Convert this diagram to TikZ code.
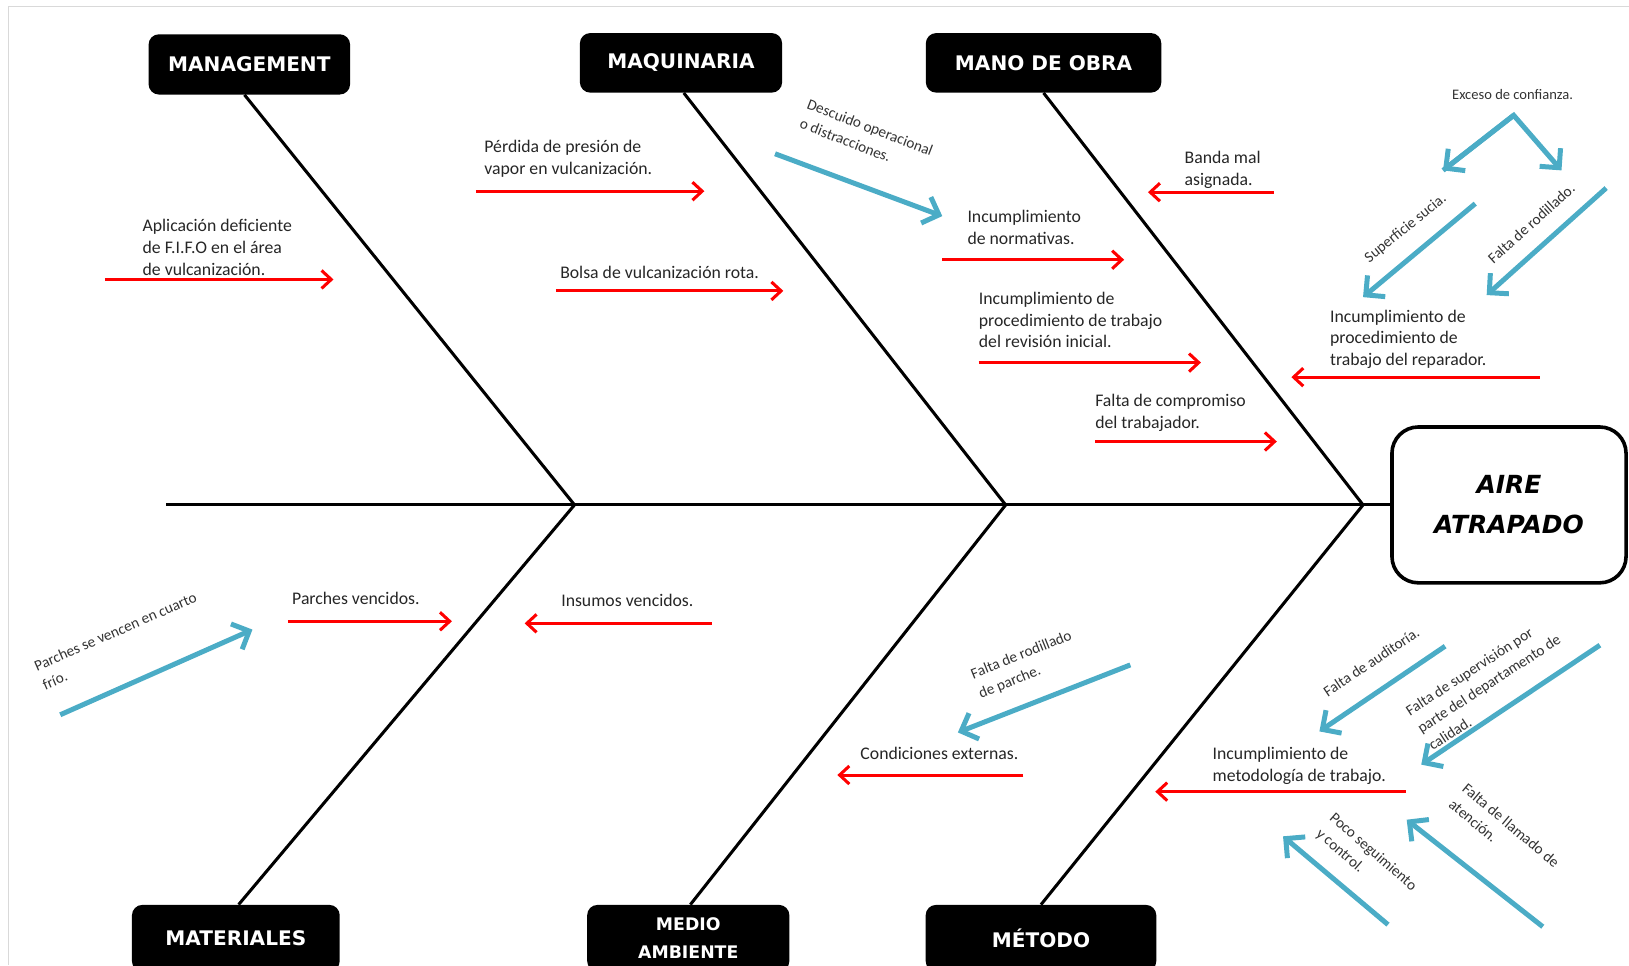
\documentclass[tikz,border=0pt]{standalone}
\usepackage{fontspec}
\setmainfont{Carlito}
\newfontfamily\boxfont{DejaVu Sans}
\usetikzlibrary{arrows.meta}
\definecolor{causered}{RGB}{255,0,0}
\definecolor{subblue}{RGB}{75,172,198}
\tikzset{
  bone/.style={line width=2.2pt},
  catbox/.style={rectangle, rounded corners=7.5pt, fill=black, text=white, align=center,
    inner sep=0pt, font=\boxfont\bfseries\fontsize{14.5}{20}\selectfont},
  cause/.style={anchor=west, align=left, inner sep=0pt, text=black!85,
    font=\fontsize{12.8}{15.75}\selectfont},
  subcause/.style={align=left, inner sep=0pt, text=black!80,
    font=\fontsize{11}{15}\selectfont},
  redarrow/.style={causered, line width=2.2pt, -{Straight Barb[length=7pt,width=13pt]}},
  bluearrow/.style={subblue, line width=3.6pt, -{Straight Barb[length=10pt,width=20pt]}}
}
\begin{document}
\begin{tikzpicture}[x=0.75pt,y=-0.75pt]
  \useasboundingbox (0,0) rectangle (1568,929);
  \clip (0,0) rectangle (1568,929);
  % Frame
  \draw[black!15, line width=1pt] (8,929) -- (8,6) -- (1568,6);
  % Effect
  \node[draw, line width=2.6pt, rounded corners=19pt, minimum width=169pt, minimum height=112.5pt,
    align=center, font=\boxfont\bfseries\itshape\fontsize{18}{29}\selectfont] (effect)
    at (1452.5,486) {AIRE\\ATRAPADO};
  % Spine and junctions
  \coordinate (tail) at (160,486);
  \coordinate (j1) at (553,486);
  \coordinate (j2) at (968,486);
  \coordinate (j3) at (1312,486);
  \draw[bone] (tail) -- (effect.west);
  % Categories
  \node[catbox, minimum width=145.5pt, minimum height=43.5pt] (mgmt) at (240,62) {MANAGEMENT};
  \node[catbox, minimum width=146pt, minimum height=43pt] (maq) at (655.5,60.5) {MAQUINARIA};
  \node[catbox, minimum width=170pt, minimum height=43pt] (mano) at (1004.5,60.5) {MANO DE OBRA};
  \node[catbox, minimum width=150pt, minimum height=48pt] (mat) at (227,903) {MATERIALES};
  \node[catbox, minimum width=146pt, minimum height=48pt,
    font=\boxfont\bfseries\fontsize{12.5}{20}\selectfont] (medio) at (662.5,903) {MEDIO\\AMBIENTE};
  \node[catbox, minimum width=166.5pt, minimum height=48pt] (metodo) at (1002,903) {MÉTODO};
  % Bones
  \draw[bone] ([xshift=-3.5pt]mgmt.south) -- (j1) -- ([xshift=2pt]mat.north);
  \draw[bone] ([xshift=2pt]maq.south) -- (j2) -- ([xshift=1.5pt]medio.north);
  \draw[bone] (mano.south) -- (j3) -- (metodo.north);

  % Management
  \node[cause] (fifo) at (137,238) {Aplicación deficiente\\de F.I.F.O en el área\\de vulcanización.};
  \draw[redarrow] (101,269) -- (321,269);
  % Maquinaria
  \node[cause] (vapor) at (466,152.5) {Pérdida de presión de\\vapor en vulcanización.};
  \draw[redarrow] (458,184) -- (678,184);
  \node[cause] (bolsa) at (539,262) {Bolsa de vulcanización rota.};
  \draw[redarrow] (535,280) -- (754,280);
  % Mano de obra
  \node[cause] (normas) at (931,218.5) {Incumplimiento\\de normativas.};
  \draw[redarrow] (907,250) -- (1082,250);
  \node[subcause, rotate=-21] (descuido) at (834,132) {Descuido operacional\\o distracciones.};
  \draw[bluearrow] (746,148) -- (907,208);
  \node[cause] (banda) at (1140,163.5) {Banda mal\\asignada.};
  \draw[redarrow] (1226,185) -- (1105,185);
  \node[cause] (revision) at (942,308) {Incumplimiento de\\procedimiento de trabajo\\del revisión inicial.};
  \draw[redarrow] (942,349) -- (1156,349);
  \node[cause] (compromiso) at (1054,397.5) {Falta de compromiso\\del trabajador.};
  \draw[redarrow] (1054,425) -- (1229,425);
  \node[cause] (reparador) at (1280,326.5) {Incumplimiento de\\procedimiento de\\trabajo del reparador.};
  \draw[redarrow] (1482,363) -- (1243,363);
  \node[subcause, font=\fontsize{10.5}{13}\selectfont] (exceso) at (1456,91) {Exceso de confianza.};
  \draw[bluearrow] (1389,164) -- (1457,111) -- (1503,164);
  \draw[bluearrow] (1457,111) -- (1389,164);
  \node[subcause, rotate=39] (sucia) at (1353,220) {Superficie sucia.};
  \draw[bluearrow] (1420,196) -- (1312,286);
  \node[subcause, rotate=42] (rodillado) at (1474,215) {Falta de rodillado.};
  \draw[bluearrow] (1546,181) -- (1431,284);

  % Materiales
  \node[cause] (parches) at (281,576) {Parches vencidos.};
  \draw[redarrow] (277,598) -- (435,598);
  \node[subcause, rotate=23.5] (cuarto) at (115,617) {Parches se vencen en cuarto\\frío.};
  \draw[bluearrow] (58,688) -- (243,606);
  % Medio ambiente
  \node[cause] (insumos) at (540,578) {Insumos vencidos.};
  \draw[redarrow] (685,600) -- (505,600);
  \node[cause] (externas) at (828,725) {Condiciones externas.};
  \draw[redarrow] (985,746) -- (806,746);
  \node[subcause, rotate=22] (parche) at (987,640) {Falta de rodillado\\de parche.};
  \draw[bluearrow] (1088,640) -- (922,705);
  % Metodo
  \node[cause] (metodologia) at (1167,737.5) {Incumplimiento de\\metodología de trabajo.};
  \draw[redarrow] (1353,762) -- (1112,762);
  \node[subcause, rotate=34] (auditoria) at (1320,637) {Falta de auditoría.};
  \draw[bluearrow] (1391,622) -- (1270,704);
  \node[subcause, rotate=33] (supervision) at (1433,658) {Falta de supervisión por\\parte del departamento de\\calidad.};
  \draw[bluearrow] (1540,621) -- (1368,736);
  \node[subcause, rotate=-41] (seguimiento) at (1315,828) {Poco seguimiento\\y control.};
  \draw[bluearrow] (1336,890) -- (1235,805);
  \node[subcause, rotate=-40] (llamado) at (1448,802) {Falta de llamado de\\atención.};
  \draw[bluearrow] (1485,892) -- (1354,789);
\end{tikzpicture}
\end{document}
